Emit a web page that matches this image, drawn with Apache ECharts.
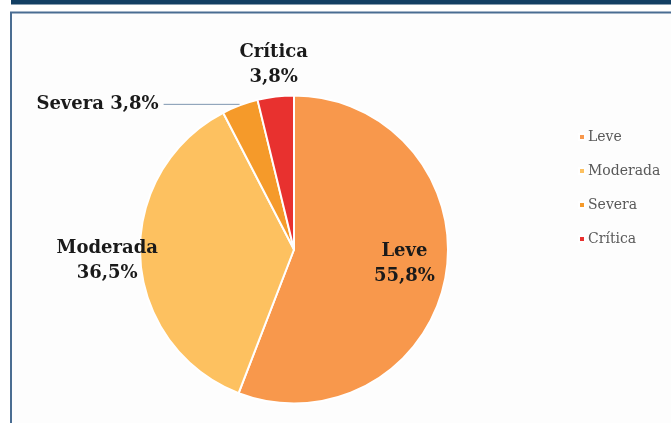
<!DOCTYPE html>
<html>
<head>
<meta charset="utf-8">
<script src="https://cdn.jsdelivr.net/npm/echarts@6/dist/echarts.min.js"></script>
<style>
html,body{margin:0;padding:0;background:#ffffff;}
#chart{width:671px;height:423px;}
</style>
</head>
<body>
<div id="chart"></div>
<script>
// Data
var categories = ['Leve', 'Moderada', 'Severa', 'Crítica'];
var values = [55.8, 36.5, 3.8, 3.8];
var colors = ['#f8984c', '#fdc160', '#f59a2a', '#e8312f'];

// Layout constants
var CX = 294, CY = 249.5, R = 154;
var total = values.reduce(function (a, b) { return a + b; }, 0);

function fmtPct(v) { return v.toFixed(1).replace('.', ',') + '%'; }

function edgePoint(i) {
  var cum = 0;
  for (var k = 0; k < i; k++) cum += values[k];
  var mid = (cum + values[i] / 2) / total * 2 * Math.PI;
  return [CX + R * Math.sin(mid), CY - R * Math.cos(mid)];
}
// label offsets from slice edge midpoint (style only)
var labelShift = { 0: [-41, -14], 1: [-33, 3], 3: [-2, -32] };

var chart = echarts.init(document.getElementById('chart'));
var labelFont = { fontFamily: 'DejaVu Serif', fontWeight: 'bold', fontSize: 18, lineHeight: 25, color: '#1a1a1a' };

var seriesData = categories.map(function (name, i) {
  var item = { name: name, value: values[i], itemStyle: { color: colors[i] } };
  if (i === 2) {
    item.label = Object.assign({ show: true, position: 'outside', formatter: function (p) { return p.name + ' ' + fmtPct(p.value); } }, labelFont);
    item.labelLine = { show: true, length: 1, length2: 76, lineStyle: { color: '#7f97b0', width: 1 } };
  } else {
    item.label = Object.assign({ show: true, position: 'inside', formatter: function (p) { return p.name + '\n' + fmtPct(p.value); } }, labelFont);
    item.labelLine = { show: false };
  }
  return item;
});

chart.setOption({
  backgroundColor: '#ffffff',
  animation: false,
  graphic: [
    { type: 'rect', shape: { x: 11, y: 0, width: 660, height: 4.5 }, style: { fill: '#123f63' }, silent: true },
    { type: 'rect', shape: { x: 11, y: 12.5, width: 670, height: 420 }, style: { fill: '#fdfdfd', stroke: '#4a6d92', lineWidth: 2 }, silent: true, z: -10 }
  ],
  legend: {
    orient: 'vertical',
    left: 573,
    top: 124,
    icon: 'rect',
    itemWidth: 6,
    itemHeight: 6,
    itemGap: 18,
    data: categories,
    textStyle: { fontFamily: 'DejaVu Serif', fontSize: 14, lineHeight: 16, color: '#595959', padding: [0, 0, 0, -2] }
  },
  series: [{
    type: 'pie',
    center: [CX, CY],
    radius: R,
    startAngle: 90,
    clockwise: true,
    avoidLabelOverlap: false,
    itemStyle: { borderColor: '#ffffff', borderWidth: 2 },
    data: seriesData,
    labelLayout: function (params) {
      var s = labelShift[params.dataIndex];
      if (!s) return {};
      var e = edgePoint(params.dataIndex);
      return { x: e[0] + s[0], y: e[1] + s[1], align: 'center', verticalAlign: 'middle' };
    }
  }]
});
</script>
</body>
</html>
